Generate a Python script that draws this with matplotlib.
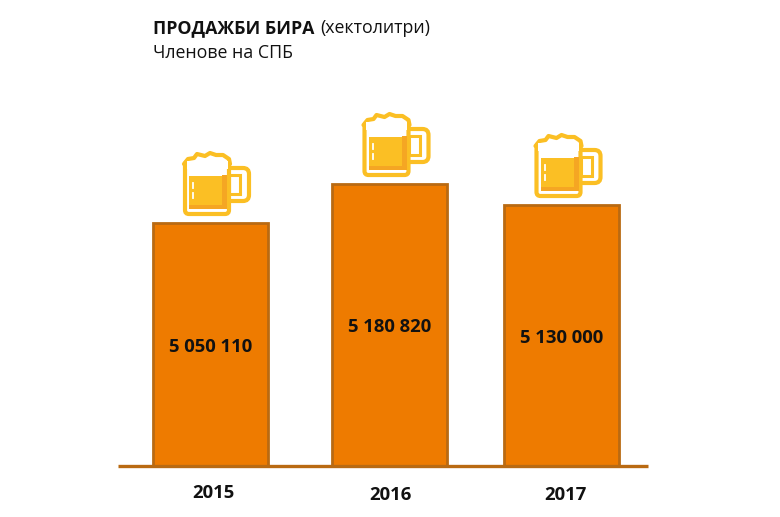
import matplotlib
matplotlib.use("Agg")
import matplotlib.pyplot as plt
from matplotlib.patches import Rectangle, Polygon, FancyBboxPatch

plt.rcParams['font.family'] = ['Open Sans', 'Noto Sans', 'DejaVu Sans']

years = ['2015', '2016', '2017']
value_labels = ['5 050 110', '5 180 820', '5 130 000']
# bar heights (the original's axis is truncated)
bar_heights = [243, 282, 261]
bar_centres = [210, 389.5, 561.5]
label_heights = [119, 139, 128]
year_heights = [-27, -29, -29]

ORANGE = '#EE7B00'
EDGE = '#B96A12'
MUG = '#FBBF24'
MUG_DARK = '#F5A623'

fig = plt.figure(figsize=(7.8, 5.17), dpi=100)
ax = fig.add_axes([0, 0, 1, 1])
ax.set_xlim(0, 780)
ax.set_ylim(-51, 466)
ax.axis('off')

ax.bar(bar_centres, bar_heights, width=115, color=ORANGE, edgecolor=EDGE, linewidth=2.0, zorder=2)
ax.plot([118, 648], [0, 0], color=EDGE, lw=2.4, solid_capstyle='butt', zorder=3)


def mug(cx, base):
    """Beer mug, cx = body centre, base = lower edge."""
    lw = 3.0
    L, R = cx - 22, cx + 22
    B, T = base, base + 53
    # handle
    ax.add_patch(FancyBboxPatch((R - 8, B + 13), 28, 33, boxstyle='round,pad=0,rounding_size=6',
                                fc='white', ec=MUG, lw=lw, zorder=4))
    ax.add_patch(Rectangle((R, B + 20), 11, 19, fc='white', ec=MUG, lw=2.2, zorder=4))
    # body
    ax.add_patch(FancyBboxPatch((L, B), R - L, T - B, boxstyle='round,pad=0,rounding_size=4',
                                fc='white', ec=MUG, lw=lw, zorder=5))
    # beer
    ax.add_patch(Rectangle((L + 4, B + 7), R - L - 8, 31, fc=MUG, ec='none', zorder=6))
    ax.add_patch(Rectangle((R - 7, B + 5), 5, 34, fc=MUG_DARK, ec='none', zorder=6))
    ax.add_patch(Rectangle((L + 4, B + 5), R - L - 6, 4, fc=MUG_DARK, ec='none', zorder=6))
    ax.plot([L + 8, L + 8], [B + 31, B + 26], color='white', lw=1.3, zorder=7)
    ax.plot([L + 8, L + 8], [B + 21, B + 16], color='white', lw=1.3, zorder=7)
    # foam crown
    foam = [(L - 1, T - 3), (L + 3, T + 2), (L + 9, T + 3), (L + 12, T + 7), (L + 20, T + 5), (L + 25, T + 8),
            (L + 31, T + 6), (L + 38, T + 6), (L + 44, T + 2), (R + 1, T - 3)]
    ax.add_patch(Polygon(foam, closed=True, fc='white', ec=MUG, lw=lw, joinstyle='round', zorder=6))
    ax.add_patch(Rectangle((L + 1.5, T - 8), R - L - 3, 8, fc='white', ec='none', zorder=7))


for cx, h in zip(bar_centres, bar_heights):
    mug(cx - 3, h + 9)

for cx, y, lab in zip(bar_centres, label_heights, value_labels):
    ax.text(cx + 0.5, y, lab, ha='center', va='center', fontsize=13.3, fontweight='bold', color='#111111', zorder=8)
for cx, y, lab in zip([213, 390, 565], year_heights, years):
    ax.text(cx, y, lab, ha='center', va='center', fontsize=13.3, fontweight='bold', color='#111111', zorder=8)

ax.text(153, 438, 'ПРОДАЖБИ БИРА', ha='left', va='center', fontsize=12.75, fontweight='bold', color='#111111')
ax.text(320, 438, '(хектолитри)', ha='left', va='center', fontsize=12.75, color='#111111')
ax.text(153, 413, 'Членове на СПБ', ha='left', va='center', fontsize=12.75, color='#111111')

fig.savefig('out.png', dpi=100, facecolor='white')
